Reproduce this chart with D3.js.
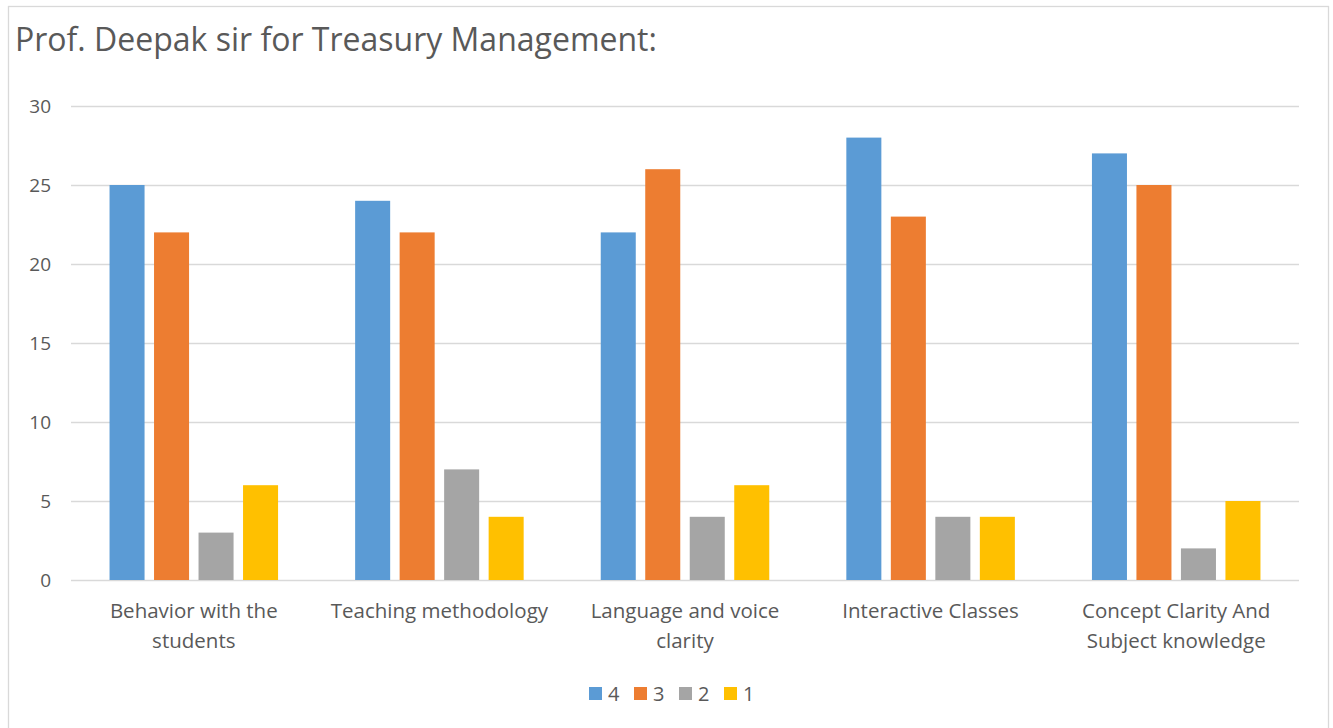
<!DOCTYPE html>
<meta charset="utf-8">
<style>
  body { margin: 0; background: #fff; }
  svg text { font-family: "Open Sans", "Noto Sans", sans-serif; fill: #595959; }
  .grid line { stroke: #d9d9d9; stroke-width: 1.3; }
  .grid path { display: none; }
</style>
<svg width="1333" height="728"></svg>
<script src="https://d3js.org/d3.v7.min.js"></script>
<script>

var categories = [
  ["Behavior with the", "students"],
  ["Teaching methodology"],
  ["Language and voice", "clarity"],
  ["Interactive Classes"],
  ["Concept Clarity And", "Subject knowledge"]
];
var seriesNames = ["4", "3", "2", "1"];
var colors = ["#5b9bd5", "#ed7d31", "#a5a5a5", "#ffc000"];
var s4 = [25, 24, 22, 28, 27];
var s3 = [22, 22, 26, 23, 25];
var s2 = [3, 7, 4, 4, 2];
var s1 = [6, 4, 6, 4, 5];
var yTicks = [0, 5, 10, 15, 20, 25, 30];

var allSeries = [s4, s3, s2, s1];

var svg = d3.select("svg");

// outer frame
svg.append("rect")
    .attr("x", 8.5).attr("y", 6.5)
    .attr("width", 1320).attr("height", 730)
    .attr("fill", "#fff")
    .attr("stroke", "#d9d9d9")
    .attr("stroke-width", 1.3);

svg.append("text")
    .attr("x", 15).attr("y", 51)
    .style("font-size", "32px")
    .text("Prof. Deepak sir for Treasury Management:");

var plotLeft = 71, plotRight = 1299, plotTop = 106, plotBottom = 580;

var x0 = d3.scaleBand().domain(d3.range(categories.length)).range([plotLeft, plotRight]).padding(0);
var x1 = d3.scaleBand().domain(seriesNames).range([0, x0.bandwidth()])
    .paddingInner(0.213).paddingOuter(0.866);
var y = d3.scaleLinear().domain([0, 30]).range([plotBottom, plotTop]);

// gridlines + y labels
var grid = svg.append("g")
    .attr("class", "grid")
    .attr("transform", "translate(" + plotLeft + ",0)")
    .call(d3.axisLeft(y).tickValues(yTicks).tickSize(-(plotRight - plotLeft)).tickPadding(20));
grid.selectAll("text")
    .style("font-size", "19px")
    .attr("fill", "#595959");

// bars
var groups = svg.append("g").selectAll("g")
    .data(categories)
    .enter().append("g")
    .attr("transform", function(d, i) { return "translate(" + x0(i) + ",0)"; });

groups.selectAll("rect")
    .data(function(d, i) { return seriesNames.map(function(s, j) { return {s: s, j: j, v: allSeries[j][i]}; }); })
    .enter().append("rect")
    .attr("x", function(d) { return x1(d.s); })
    .attr("y", function(d) { return y(d.v); })
    .attr("width", x1.bandwidth())
    .attr("height", function(d) { return y(0) - y(d.v); })
    .attr("fill", function(d) { return colors[d.j]; });

// category labels
groups.append("text")
    .attr("text-anchor", "middle")
    .style("font-size", "20.5px")
    .selectAll("tspan")
    .data(function(d) { return d; })
    .enter().append("tspan")
    .attr("x", x0.bandwidth() / 2)
    .attr("y", function(d, k) { return 618 + k * 30; })
    .text(function(d) { return d; });

// legend
var legend = svg.append("g").attr("transform", "translate(589,0)");
var items = legend.selectAll("g")
    .data(seriesNames)
    .enter().append("g")
    .attr("transform", function(d, i) { return "translate(" + (i * 45) + ",0)"; });
items.append("rect")
    .attr("y", 687).attr("width", 13).attr("height", 13)
    .attr("fill", function(d, i) { return colors[i]; });
items.append("text")
    .attr("x", 19).attr("y", 701)
    .style("font-size", "20px")
    .text(function(d) { return d; });

</script>
